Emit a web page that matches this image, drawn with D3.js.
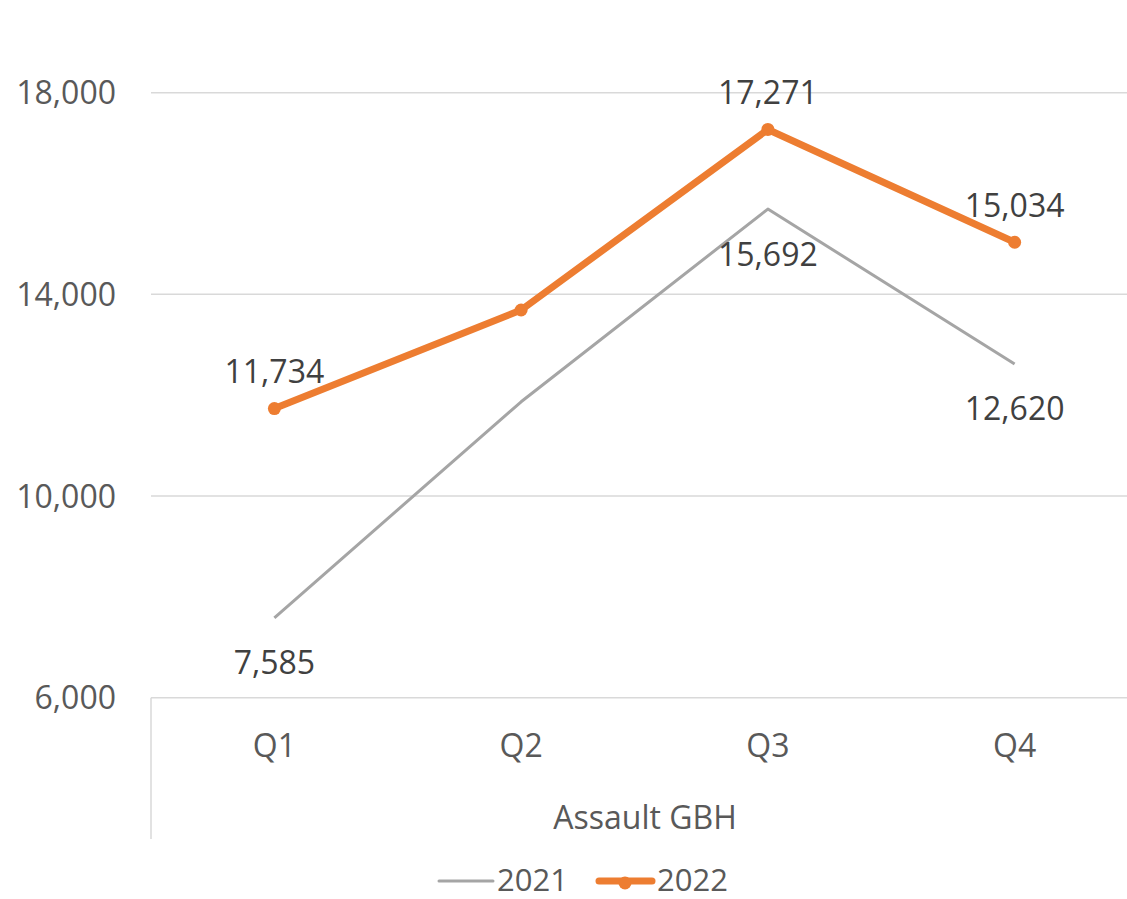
<!DOCTYPE html>
<html><head><meta charset="utf-8">
<script src="https://cdn.jsdelivr.net/npm/d3@7"></script>
<style>body{margin:0;background:#fff}svg{display:block}text{font-family:"Open Sans",sans-serif}</style>
</head><body><svg id="c" width="1127" height="899"></svg>
<script>
const categories = ["Q1","Q2","Q3","Q4"];
const values2021 = [7585, 11870, 15692, 12620];
const values2022 = [11734, 13690, 17271, 15034];
const labels2021 = ["7,585", null, "15,692", "12,620"];
const labels2022 = ["11,734", null, "17,271", "15,034"];
const yTicks = [6000, 10000, 14000, 18000];
const axisTitle = "Assault GBH";
const seriesNames = ["2021","2022"];

const svg = d3.select("#c");
const x = d3.scaleBand().domain(categories).range([151, 1138]);
const y = d3.scaleLinear().domain([6000, 18000]).range([697.7, 92.7]);
const cx = d => x(d) + x.bandwidth()/2;

// gridlines
svg.append("g").selectAll("line").data(yTicks.slice(1)).join("line")
  .attr("x1",151).attr("x2",1138).attr("y1",d=>y(d)).attr("y2",d=>y(d))
  .attr("stroke","#d9d9d9").attr("stroke-width",1.5);
// category axis line
svg.append("line").attr("x1",151).attr("x2",1138).attr("y1",y(6000)).attr("y2",y(6000))
  .attr("stroke","#d9d9d9").attr("stroke-width",1.5);
svg.append("line").attr("x1",151).attr("x2",151).attr("y1",y(6000)).attr("y2",839)
  .attr("stroke","#d9d9d9").attr("stroke-width",1.5);

// y labels
const fmt = d3.format(",");
svg.append("g").selectAll("text").data(yTicks).join("text")
  .attr("x",116).attr("y",d=>y(d)).attr("dy","0.36em").attr("text-anchor","end")
  .attr("font-size",32).attr("fill","#595959").text(d=>fmt(d));
// x labels
svg.append("g").selectAll("text").data(categories).join("text")
  .attr("x",d=>cx(d)).attr("y",757).attr("text-anchor","middle")
  .attr("font-size",32).attr("fill","#595959").text(d=>d);
svg.append("text").attr("x",645).attr("y",829).attr("text-anchor","middle")
  .attr("font-size",32).attr("fill","#595959").text(axisTitle);

const line = d3.line().x((d,i)=>cx(categories[i])).y(d=>y(d));
svg.append("path").datum(values2021).attr("d",line).attr("fill","none")
  .attr("stroke","#A5A5A5").attr("stroke-width",3).attr("stroke-linejoin","round");
svg.append("path").datum(values2022).attr("d",line).attr("fill","none")
  .attr("stroke","#ED7D31").attr("stroke-width",7).attr("stroke-linejoin","round").attr("stroke-linecap","round");
svg.append("g").selectAll("circle").data(values2022).join("circle")
  .attr("cx",(d,i)=>cx(categories[i])).attr("cy",d=>y(d)).attr("r",6.5).attr("fill","#ED7D31");

// data labels
const lab22 = categories.map((c,i)=>({c, v:values2022[i], t:labels2022[i]})).filter(d=>d.t);
const lab21 = categories.map((c,i)=>({c, v:values2021[i], t:labels2021[i]})).filter(d=>d.t);
svg.append("g").selectAll("text").data(lab22).join("text")
  .attr("x",d=>cx(d.c)).attr("y",d=>y(d.v)-37).attr("dy","0.36em")
  .attr("text-anchor","middle").attr("font-size",32).attr("fill","#404040").text(d=>d.t);
svg.append("g").selectAll("text").data(lab21).join("text")
  .attr("x",d=>cx(d.c)).attr("y",d=>y(d.v)+45).attr("dy","0.36em")
  .attr("text-anchor","middle").attr("font-size",32).attr("fill","#404040").text(d=>d.t);

// legend
const lg = svg.append("g");
lg.append("line").attr("x1",439).attr("x2",493).attr("y1",881).attr("y2",881)
  .attr("stroke","#A5A5A5").attr("stroke-width",3).attr("stroke-linecap","round");
lg.append("text").attr("x",497).attr("y",891).attr("font-size",31).attr("fill","#595959").text(seriesNames[0]);
lg.append("line").attr("x1",599).attr("x2",652).attr("y1",881).attr("y2",881)
  .attr("stroke","#ED7D31").attr("stroke-width",7).attr("stroke-linecap","round");
lg.append("circle").attr("cx",625).attr("cy",883).attr("r",6.5).attr("fill","#ED7D31");
lg.append("text").attr("x",657).attr("y",891).attr("font-size",31).attr("fill","#595959").text(seriesNames[1]);
</script></body></html>
